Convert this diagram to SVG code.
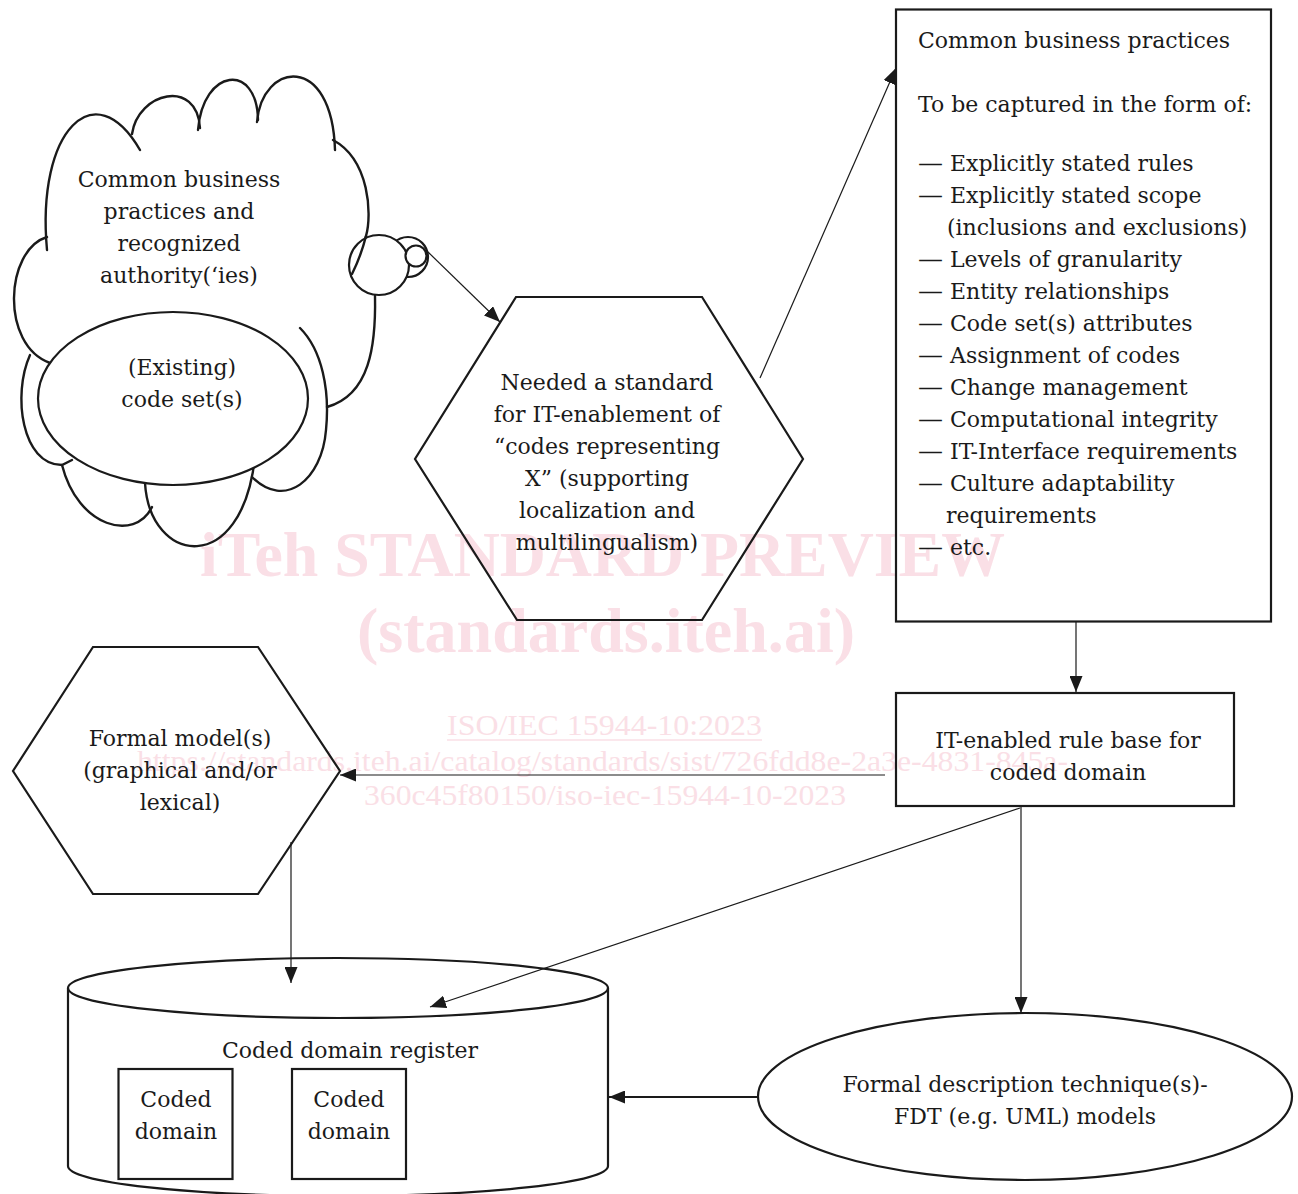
<svg xmlns="http://www.w3.org/2000/svg" width="1298" height="1194" viewBox="0 0 1298 1194">
<style>
.t{font-family:"DejaVu Serif","Liberation Serif",serif;font-size:22px;fill:#1a1a1a}
.c{text-anchor:middle}
.s{fill:none;stroke:#1a1a1a;stroke-width:2.2}
.w{fill:#fff;stroke:#1a1a1a;stroke-width:2.2}
.cl{fill:none;stroke:#1a1a1a;stroke-width:2.4;stroke-linecap:round}
.ln{fill:none;stroke:#1a1a1a;stroke-width:1.2}
.wm{font-family:"Liberation Serif",serif;fill:#fadfe6}
</style>
<defs>
<marker id="ah" viewBox="0 0 16 13" refX="16" refY="6.5" markerWidth="16" markerHeight="13" markerUnits="userSpaceOnUse" orient="auto"><path d="M0,0 L16,6.5 L0,13 z" fill="#1a1a1a"/></marker>
</defs>
<rect width="1298" height="1194" fill="#fff"/>
<g id="watermark">
<text class="wm" x="200" y="576" font-size="64" font-weight="bold" textLength="805" lengthAdjust="spacingAndGlyphs">iTeh STANDARD PREVIEW</text>
<text class="wm" x="357" y="652" font-size="64" font-weight="bold" textLength="498" lengthAdjust="spacingAndGlyphs">(standards.iteh.ai)</text>
<text class="wm" x="447" y="735" font-size="29" textLength="315" lengthAdjust="spacingAndGlyphs">ISO/IEC 15944-10:2023</text>
<line x1="447" y1="740" x2="762" y2="740" stroke="#fadfe6" stroke-width="1.5"/>
<text class="wm" x="137" y="771" font-size="29" textLength="931" lengthAdjust="spacingAndGlyphs">https://standards.iteh.ai/catalog/standards/sist/726fdd8e-2a3e-4831-845a-</text>
<text class="wm" x="364" y="805" font-size="29" textLength="482" lengthAdjust="spacingAndGlyphs">360c45f80150/iso-iec-15944-10-2023</text>
</g>
<g id="cloud">
<path class="cl" d="M47,250 C36,130 95,72 140,150"/>
<path class="cl" d="M132,134 C138,92 197,78 200,128"/>
<path class="cl" d="M198,130 C203,68 257,62 258,120"/>
<path class="cl" d="M257,122 C262,62 332,52 335,150"/>
<path class="cl" d="M333,140 C370,160 372,215 366,236 C362,252 358,262 352,274"/>
<path class="cl" d="M375,296 C376,345 370,395 327,407"/>
<path class="cl" d="M300,328 C322,350 330,390 326,430 C322,480 285,510 252,477"/>
<path class="cl" d="M145,483 C150,565 242,578 255,457"/>
<path class="cl" d="M62,465 C78,528 135,542 152,507"/>
<path class="cl" d="M30,355 C12,395 22,465 62,465 L72,460"/>
<path class="cl" d="M47,237 C5,250 0,345 50,363"/>
<text class="t c" x="179" y="187">Common business</text>
<text class="t c" x="179" y="219">practices and</text>
<text class="t c" x="179" y="251">recognized</text>
<text class="t c" x="179" y="283">authority(‘ies)</text>
</g>
<g id="bubbles">
<circle class="w" cx="408" cy="257" r="20"/>
<circle cx="379" cy="265" r="30" fill="#fff" stroke="none"/>
<path class="cl" d="M366,236 C362,252 358,262 352,274"/>
<circle class="s" cx="379" cy="265" r="30"/>
<circle class="w" cx="416" cy="256" r="10.5"/>
</g>
<g id="existing">
<ellipse class="w" cx="173" cy="398.5" rx="135" ry="86.5"/>
<text class="t c" x="182" y="375">(Existing)</text>
<text class="t c" x="182" y="407">code set(s)</text>
</g>
<g id="needed">
<polygon class="s" points="516,297 702,297 803,459 702,620 517,620 415,459"/>
<text class="t c" x="607" y="390">Needed a standard</text>
<text class="t c" x="607" y="422">for IT-enablement of</text>
<text class="t c" x="607" y="454">“codes representing</text>
<text class="t c" x="607" y="486">X” (supporting</text>
<text class="t c" x="607" y="518">localization and</text>
<text class="t c" x="607" y="550">multilingualism)</text>
</g>
<g id="practices">
<rect class="s" x="896" y="9.5" width="375" height="612"/>
<text class="t" x="918" y="48">Common business practices</text>
<text class="t" x="918" y="112">To be captured in the form of:</text>
<g class="t">
<text x="918" y="171" textLength="25" lengthAdjust="spacingAndGlyphs">—</text><text x="950" y="171">Explicitly stated rules</text>
<text x="918" y="203" textLength="25" lengthAdjust="spacingAndGlyphs">—</text><text x="950" y="203">Explicitly stated scope</text>
<text x="947" y="235">(inclusions and exclusions)</text>
<text x="918" y="267" textLength="25" lengthAdjust="spacingAndGlyphs">—</text><text x="950" y="267">Levels of granularity</text>
<text x="918" y="299" textLength="25" lengthAdjust="spacingAndGlyphs">—</text><text x="950" y="299">Entity relationships</text>
<text x="918" y="331" textLength="25" lengthAdjust="spacingAndGlyphs">—</text><text x="950" y="331">Code set(s) attributes</text>
<text x="918" y="363" textLength="25" lengthAdjust="spacingAndGlyphs">—</text><text x="950" y="363">Assignment of codes</text>
<text x="918" y="395" textLength="25" lengthAdjust="spacingAndGlyphs">—</text><text x="950" y="395">Change management</text>
<text x="918" y="427" textLength="25" lengthAdjust="spacingAndGlyphs">—</text><text x="950" y="427">Computational integrity</text>
<text x="918" y="459" textLength="25" lengthAdjust="spacingAndGlyphs">—</text><text x="950" y="459">IT-Interface requirements</text>
<text x="918" y="491" textLength="25" lengthAdjust="spacingAndGlyphs">—</text><text x="950" y="491">Culture adaptability</text>
<text x="946" y="523">requirements</text>
<text x="918" y="555" textLength="25" lengthAdjust="spacingAndGlyphs">—</text><text x="950" y="555">etc.</text>
</g>
</g>
<g id="rulebase">
<rect class="s" x="896" y="693" width="338" height="113"/>
<text class="t c" x="1068" y="748">IT-enabled rule base for</text>
<text class="t c" x="1068" y="780">coded domain</text>
</g>
<g id="formalmodel">
<polygon class="s" points="93,647 258,647 340,771 258,894 93,894 13,771"/>
<text class="t c" x="180" y="746">Formal model(s)</text>
<text class="t c" x="180" y="778">(graphical and/or</text>
<text class="t c" x="180" y="810">lexical)</text>
</g>
<g id="register">
<path class="s" d="M68,988 L68,1166 A270,30 0 0 0 608,1166 L608,988"/>
<ellipse class="s" cx="338" cy="988" rx="270" ry="30"/>
<text class="t c" x="350" y="1058">Coded domain register</text>
<rect class="s" x="118.5" y="1069" width="114" height="110"/>
<text class="t c" x="176" y="1107">Coded</text>
<text class="t c" x="176" y="1139">domain</text>
<rect class="s" x="292" y="1069" width="114" height="110"/>
<text class="t c" x="349" y="1107">Coded</text>
<text class="t c" x="349" y="1139">domain</text>
</g>
<g id="fdt">
<ellipse class="s" cx="1025" cy="1096.5" rx="267" ry="83.5"/>
<text class="t c" x="1025" y="1092">Formal description technique(s)-</text>
<text class="t c" x="1025" y="1124">FDT (e.g. UML) models</text>
</g>
<g id="connectors">
<line class="ln" x1="428" y1="252" x2="500" y2="322" marker-end="url(#ah)"/>
<line class="ln" x1="760" y1="378" x2="896" y2="68" marker-end="url(#ah)"/>
<line class="ln" x1="1076" y1="622" x2="1076" y2="692" marker-end="url(#ah)"/>
<line class="ln" x1="885" y1="775" x2="340" y2="775" marker-end="url(#ah)"/>
<line class="ln" x1="291" y1="842" x2="291" y2="983" marker-end="url(#ah)"/>
<line class="ln" x1="1020" y1="808" x2="430" y2="1007" marker-end="url(#ah)"/>
<line class="ln" x1="1021" y1="807" x2="1021" y2="1013" marker-end="url(#ah)"/>
<line x1="758" y1="1097" x2="609" y2="1097" stroke="#1a1a1a" stroke-width="2.2" marker-end="url(#ah)"/>
</g>
</svg>
